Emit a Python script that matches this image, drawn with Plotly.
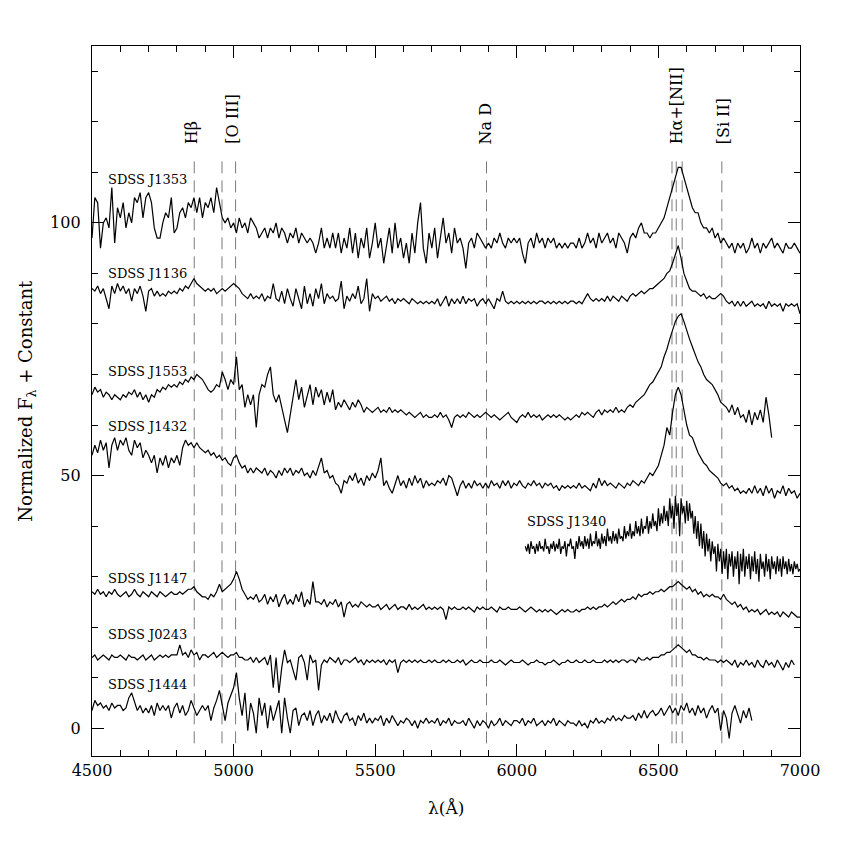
import numpy as np
import plotly.graph_objects as go

# ---------------- data ----------------
wave_full = np.arange(4500, 7001, 10)

j1353 = [97, 105, 104, 95, 100, 101, 99, 107, 96, 103,
         101, 104, 99, 102, 100, 105, 104, 106, 101, 105,
         106, 104, 99, 97, 97, 100, 102, 101, 105, 98,
         99, 102, 103, 101, 104, 103, 105, 102, 105, 101,
         104, 103, 105, 102, 107, 104, 101, 100, 101, 99,
         100, 98, 101, 99, 100, 98, 101, 100, 99, 97,
         98, 99, 97, 99, 98, 100, 97, 99, 98, 96,
         98, 97, 99, 96, 98, 97, 96, 97, 96, 94,
         96, 99, 95, 97, 95, 98, 95, 98, 94, 97,
         95, 99, 94, 98, 93, 97, 95, 99, 93, 96,
         100, 95, 97, 92, 96, 99, 94, 100, 95, 97,
         93, 96, 92, 98, 94, 100, 104, 95, 92, 98,
         95, 99, 93, 97, 101, 96, 98, 94, 99, 96,
         97, 95, 91, 96, 97, 95, 98, 97, 96, 95,
         96, 95, 97, 96, 98, 96, 95, 97, 96, 97,
         96, 97, 94, 92, 96, 97, 95, 98, 96, 97,
         95, 97, 96, 97, 95, 96, 95, 96, 95, 96,
         96, 95, 97, 95, 96, 98, 96, 97, 95, 98,
         96, 97, 98, 96, 97, 95, 98, 97, 96, 94,
         97, 98, 97, 99, 100, 98, 98, 97, 98, 98,
         99, 100, 101, 103, 105, 107, 109, 111, 111, 109,
         107, 105, 103, 102, 102, 100, 99, 99, 98, 99,
         97, 98, 96, 97, 96, 95, 96, 94, 96, 95,
         96, 94, 95, 97, 95, 96, 94, 96, 95, 96,
         97, 95, 96, 95, 94, 96, 95, 95, 96, 95, 94]

j1136 = [87, 86.5, 87.5, 86, 87, 85, 83, 87.5, 86, 88,
         86.5, 87.5, 86, 87, 84.5, 87, 86, 87.5, 85.5, 82.5,
         86.5, 87, 85.5, 86.5, 85.5, 86, 85.5, 86.5, 86, 86.5,
         86, 87, 86.5, 87.5, 87, 88, 89, 88, 87.5, 87,
         86.5, 87, 86.5, 87, 86, 86.5, 87, 86.5, 87, 87.5,
         88, 87.5, 87, 86, 85.5, 85, 86, 85, 85.5, 85,
         86, 84.5, 85.5, 85, 88, 85, 84.5, 86.5, 84, 87,
         85, 83.5, 87, 85, 83, 87.5, 84, 86, 83.5, 87,
         85, 88, 84, 86, 85, 85.5, 84.5, 85, 88.5, 83,
         85.5, 84.5, 86, 85, 87.5, 84, 85, 89, 82.5, 86,
         85, 85.5, 84.5, 85, 85.5, 84.5, 85, 84, 85, 84.5,
         85, 84.5, 84, 85, 84.5, 84, 84.5, 84, 84.5, 84,
         84.5, 84, 85, 83.5, 84.5, 85.5, 83.5, 85, 84, 85,
         84, 85.5, 84, 85, 84.5, 85, 83.5, 84.5, 85, 84,
         85, 84, 83, 85, 84.5, 86.5, 84.5, 84, 84.5, 84,
         84.5, 84, 84.5, 84, 84.5, 84, 84.5, 84, 84.5, 84.5,
         84, 84.5, 84, 84.5, 84, 84.5, 84, 84.5, 84, 84.5,
         84.5, 84, 84.5, 84, 85, 86, 85, 84.5, 85, 84.5,
         85, 84.5, 85.5, 84.5, 85.5, 85, 84.5, 85.5, 85, 84.5,
         85.5, 86, 85.5, 86, 86.5, 86, 86.5, 87, 87, 87.5,
         88, 88.5, 89, 90, 90.5, 92, 94, 95.5, 93, 90,
         88.5, 87, 86.5, 86.5, 86, 85.5, 86, 85, 85.5, 85,
         85, 85.5, 86, 85.5, 84.5, 84, 84.5, 83.5, 84.5, 83.5,
         84.5, 83.5, 84, 84.5, 83.5, 84, 83.5, 84, 83, 84.5,
         83.5, 84, 83.5, 84, 82.5, 84, 83.5, 84, 83.5, 84, 82]

wave_j1553 = np.arange(4500, 6901, 10)
j1553 = [66, 67.5, 66.5, 67, 65.5, 66.5, 66, 65, 66, 65.5,
         65, 66, 65.5, 66.5, 66, 67, 65.5, 66.5, 65, 66,
         64.5, 66, 65.5, 67, 66.5, 67.5, 67, 68, 67.5, 68,
         67.5, 68.5, 68, 69, 68.5, 69.5, 69, 70, 69.5, 69,
         68, 67, 66.5, 67, 68, 67.5, 70.5, 69, 67, 69,
         68, 73.5, 67, 68, 63.5, 66, 64, 66, 59.5, 66,
         68, 67.5, 70, 71.5, 66, 64.5, 66, 63.5, 61, 58.5,
         62, 66, 69, 65, 67.5, 63.5, 66, 68, 64, 67.5,
         65.5, 67, 64, 66.5, 64.5, 67, 63, 64.5, 63.5, 65,
         64, 63, 64.5, 63.5, 65, 64, 62.5, 63.5, 63, 62.5,
         63, 63.5, 62.5, 63, 62.5, 63.5, 62.5, 63, 62.5, 63,
         62.5, 62, 62.5, 62, 61.5, 62, 62.5, 61.5, 62, 61.5,
         61.5, 62, 61.5, 62.5, 61.5, 62, 61, 59.5, 61.5, 62,
         61.5, 62, 61.5, 62.5, 62, 61.5, 62, 61.5, 62, 62.5,
         62, 61.5, 62, 61.5, 61, 61.5, 62, 62.5, 61.5, 61,
         60.5, 61.5, 62, 61.5, 62.5, 61.5, 62, 61.5, 62, 61,
         61.5, 62, 61.5, 62, 61.5, 62, 61.5, 61, 61.5, 61,
         61.5, 62, 61.5, 62.5, 62, 62.5, 62, 61.5, 62.5, 63,
         62, 63, 62.5, 63, 62.5, 63.5, 62.5, 63, 62.5, 63.5,
         64, 63.5, 64.5, 65, 65.5, 66, 67, 68, 68.5, 69.5,
         70.5, 71.5, 73.5, 75, 77, 79, 80.5, 81.5, 82, 80.5,
         78.5, 77, 75.5, 74, 72.5, 71.5, 70, 69, 68.5, 68,
         67, 66, 64.5, 64, 63.5, 62.5, 64, 62, 63.5, 61.5,
         62, 60.5, 63, 60, 62.5, 61, 63, 60.5, 65.5, 62, 57.5]

j1432 = [54, 56, 54.5, 57, 55, 56.5, 51.5, 56, 57.5, 55,
         57, 56, 57.5, 55, 54, 57, 55.5, 56.5, 53.5, 55,
         54, 52.5, 54, 50.5, 53.5, 52, 54, 51.5, 53.5, 52.5,
         54, 52, 55.5, 57, 56, 56.5, 55.5, 56.5, 55.5, 55,
         54.5, 55, 54, 54.5, 53.5, 54, 53, 53.5, 52.5, 52,
         53.5, 54, 52.5, 51.5, 52, 50.5, 51.5, 50.5, 51.5, 51,
         50.5, 51.5, 50, 51, 50.5, 49.5, 51, 50, 51.5, 50.5,
         51.5, 50, 51, 50.5, 51.5, 50, 50.5, 49.5, 51, 50,
         52, 53.5, 50.5, 51, 49.5, 50, 48.5, 48, 46.5, 49,
         48.5, 50, 49, 50.5, 48.5, 49.5, 48, 50, 49, 50.5,
         49.5, 51, 53.5, 48, 49, 47.5, 46.5, 48.5, 50, 48,
         49, 47.5, 49.5, 48, 50, 48.5, 49.5, 47.5, 49, 48,
         48.5, 48, 49, 48.5, 49.5, 48, 50, 49.5, 47.5, 46,
         48, 49, 47.5, 48.5, 47.5, 49, 48, 48.5, 47.5, 48.5,
         47.5, 49, 48, 48.5, 47.5, 49, 48, 49, 47.5, 48.5,
         48, 49, 48, 47.5, 48.5, 48, 49, 48, 48.5, 47.5,
         48.5, 48, 48.5, 47.5, 48, 47, 48, 47.5, 48, 47.5,
         48, 47.5, 48.5, 47.5, 48, 47.5, 47, 48.5, 47.5, 49.5,
         48, 49, 48, 48.5, 48, 47.5, 48.5, 48, 47.5, 48.5,
         48, 49, 48.5, 48, 49, 48.5, 49.5, 50.5, 50, 51,
         52, 54, 56, 59.5, 58, 62.5, 66, 67.5, 66, 63,
         60, 58, 57.5, 56, 54.5, 53.5, 52.5, 52, 51, 50.5,
         50, 49.5, 48.5, 48, 48.5, 47.5, 48, 47, 47.5, 46.5,
         47, 46.5, 47.5, 46.5, 48, 46.5, 47.5, 46, 48, 46.5,
         47.5, 45.5, 47, 46.5, 48, 46, 47.5, 46.5, 47, 45.5, 46.5]

wave_j1340 = np.arange(6030, 7001, 5)
j1340 = [36, 35, 36.5, 34.5, 37, 35.5, 36, 34.5, 36.5, 35, 37, 35.5, 36, 35, 37.5, 35.5, 36, 34.5, 36.5, 35.5,
         37, 35, 36.5, 35.5, 37.5, 34.5, 36, 35.5, 37, 34, 36.5, 36, 37.5, 35.5, 36, 33.5, 37, 35.5, 38, 36,
         37, 35.5, 38, 36, 37.5, 35.5, 38.5, 36, 37, 36.5, 39, 36, 37.5, 35.5, 38.5, 36.5, 38, 36, 39.5, 37,
         38, 36.5, 39, 37, 38.5, 36.5, 39.5, 37.5, 38, 37, 40, 37.5, 39, 38, 40.5, 37.5, 39, 38, 41, 38.5,
         40, 38, 41.5, 38.5, 40, 39.5, 42, 38.5, 41, 39.5, 42.5, 40, 41, 39, 43.5, 40, 42.5, 40.5, 44, 41,
         43, 40, 45.5, 41.5, 44, 39.5, 46, 42, 44.5, 38, 45.5, 42.5, 44, 40.5, 45, 41, 44.5, 41.5, 43, 38.5,
         42, 37.5, 41, 36, 40.5, 35.5, 39, 34, 38.5, 35, 37.5, 33, 37, 34.5, 36, 31, 36.5, 33, 35.5, 30.5,
         35, 31.5, 35.5, 29.5, 34.5, 32, 35, 30, 34, 31.5, 35, 28.5, 34.5, 31, 35.5, 30, 34, 31.5, 34.5, 29.5,
         34, 31, 35, 30.5, 33.5, 29, 34.5, 31.5, 33, 30, 34.5, 31, 33.5, 29.5, 34, 31.5, 33, 30.5, 34, 31,
         33.5, 30, 34, 31.5, 33, 30.5, 33.5, 31, 32.5, 30.5, 33, 31.5, 32.5, 31, 31.5]

j1147 = [27, 26.5, 27.5, 26.5, 27, 26, 27, 26.5, 27.5, 26.5,
         26, 26.5, 27, 26, 26.5, 27.5, 26.5, 26, 27, 26.5,
         26, 27, 26.5, 26, 27, 26.5, 26, 26.5, 27, 26.5,
         26.5, 27, 26.5, 27, 27.5, 27.5, 28, 27, 26.5, 26,
         26, 25.5, 26.5, 26, 27, 28.5, 27, 27.5, 28, 28.5,
         29.5, 31, 29.5, 27.5, 26.5, 25.5, 26, 25.5, 26.5, 25,
         25.5, 26.5, 24.5, 26, 25, 26.5, 24, 25.5, 26.5, 24.5,
         25.5, 24.5, 26.5, 25, 27, 24, 25.5, 24.5, 29, 25,
         25, 24.5, 25.5, 24, 25, 24.5, 25.5, 24, 25, 22,
         24.5, 25, 24, 24.5, 24, 25, 24.5, 24, 24.5, 24,
         24, 24.5, 23.5, 24, 24.5, 23.5, 24, 24.5, 23.5, 24,
         24, 23.5, 24.5, 23.5, 24, 23.5, 24, 24.5, 23.5, 24,
         23.5, 24, 23.5, 24, 23.5, 21.5, 24, 23.5, 24, 23.5,
         23.5, 24, 23.5, 24, 23.5, 23, 24, 23.5, 24, 23.5,
         23.5, 24, 23.5, 23, 24, 23.5, 23.5, 24, 23.5, 23.5,
         23.5, 24, 23.5, 23, 23.5, 24, 23.5, 23, 23.5, 23,
         23.5, 23, 23.5, 23, 22.5, 23, 23.5, 23, 23.5, 23,
         23, 23.5, 23, 23.5, 23.5, 24, 23.5, 24, 23.5, 24,
         24, 24.5, 24, 24.5, 25, 24.5, 25, 25.5, 25, 25.5,
         25.5, 26, 25.5, 26.5, 26, 26.5, 26.5, 27, 26.5, 27,
         27, 27.5, 27, 27.5, 28, 28, 28.5, 29, 28.5, 28,
         27.5, 28, 27, 27.5, 26.5, 27, 26, 26.5, 26, 26.5,
         26, 26, 25.5, 26.5, 25.5, 25, 24.5, 25, 24, 24.5,
         23.5, 24, 23, 23.5, 23, 23.5, 22.5, 23, 23.5, 22.5,
         23, 22.5, 23, 22, 23, 22.5, 22, 23, 22.5, 22, 22]

wave_j0243 = np.arange(4500, 6981, 10)
j0243 = [14, 14.5, 13.5, 14, 14.5, 14, 13.5, 14.5, 14, 14,
         14.5, 14, 13.5, 14.5, 14, 14, 13.5, 14, 14.5, 13.5,
         14, 14.5, 13.5, 14, 14.5, 14, 14.5, 14, 14.5, 14.5,
         14.5, 16.5, 14.5, 15, 14, 15.5, 14.5, 15, 13.5, 14.5,
         14.5, 14, 14.5, 15, 14, 14.5, 15, 14.5, 14, 14.5,
         14.5, 15, 14, 14, 13.5, 13.5, 14, 13, 14, 13,
         13.5, 14, 12.5, 14.5, 8, 14, 7, 12, 15.5, 13,
         13.5, 11.5, 9.5, 14, 14.5, 13, 9.5, 14.5, 13, 13.5,
         7.5, 12.5, 13.5, 13, 14, 13.5, 13, 14, 12.5, 13.5,
         13.5, 13, 13.5, 14, 13, 13.5, 12.5, 13.5, 13, 13.5,
         13, 13.5, 13, 13.5, 12.5, 13.5, 13, 13.5, 11, 13,
         13.5, 13, 13.5, 13, 13.5, 13, 13.5, 13, 13, 13.5,
         13, 13.5, 13, 13, 13.5, 13, 13.5, 13, 13, 13.5,
         13, 13.5, 12.5, 13, 13.5, 13, 13, 13.5, 13, 13,
         13, 13.5, 13, 13, 13.5, 13, 12.5, 13, 13.5, 13,
         13, 13, 13.5, 13, 12.5, 13, 13, 13.5, 13, 13,
         12.5, 13, 13, 13.5, 13, 12.5, 13, 13, 13.5, 13,
         13, 13.5, 13, 13, 13.5, 13, 13, 13.5, 13, 13,
         13, 13.5, 13, 13.5, 13, 13.5, 13, 13.5, 13.5, 13,
         13.5, 13.5, 13, 14, 13.5, 13.5, 14, 13.5, 14, 14,
         14, 14.5, 14.5, 15, 15, 15.5, 16, 16.5, 16, 15.5,
         15, 15.5, 14.5, 14.5, 14, 14, 13.5, 14, 13.5, 13.5,
         13.5, 13, 13.5, 13, 13.5, 13, 12.5, 13.5, 12, 13,
         12.5, 13.5, 12.5, 13, 12, 13.5, 12.5, 12, 13.5, 12.5,
         13, 12, 13.5, 12.5, 11.5, 13, 12, 13.5, 12.5]

wave_j1444 = np.arange(4500, 6831, 10)
j1444 = [3.5, 5.5, 4.5, 5, 4, 4.5, 3.5, 5, 4, 4.5,
         4.5, 3.5, 4, 6, 7, 5, 3.5, 4.5, 3, 4,
         3, 4.5, 2.5, 5, 3.5, 4.5, 3.5, 4.5, 2, 4,
         5, 3, 4.5, 2.5, 3.5, 5.5, 4, 2.5, 3.5, 4.5,
         3.5, 4.5, 1.5, 4, 5.5, 7.5, 4.5, 1.5, 5, 6.5,
         8, 11, 6, 2.5, 7, -0.5, 5, 3, -1, 6,
         2.5, 5, 0, 4.5, 1.5, 3.5, 5.5, -1, 6, 2,
         -1, 3.5, 4, 0.5, 2.5, 3, 1.5, 3.5, 0.5, 2.5,
         3.5, 1, 2.5, 1.5, 3, 1, 3.5, 2, 1, 2.5,
         3, 1.5, 2, 0.5, 2.5, 1.5, 3, 1, 2, 1,
         2, 1.5, 2.5, 0.5, 2, 1, 2.5, 1.5, 0.5, 1.5,
         1, 2, 1.5, 0.5, 1.5, 0, 1.5, 1, 2, 1,
         1.5, 1, 2, 0.5, 1.5, 1, 2, 0.5, 1.5, 1,
         1, 1.5, 0.5, 2, 1, 0, 1.5, 0.5, 1.5, 1,
         0, 1.5, 0.5, 1, 2, 0.5, 1.5, 1, 0.5, 1.5,
         1.5, 1, 2, 0.5, 1.5, 1, 2, 0.5, 1, 1.5,
         0.5, 1.5, 1, 2, 0.5, 1.5, 1, 0.5, 1.5, 1,
         1, 0.5, 1.5, 0.5, 1, 0, 1.5, 1, 2, 1,
         1.5, 1, 2, 1.5, 2.5, 1.5, 2, 1.5, 2.5, 2,
         2, 2.5, 1.5, 3, 2, 3.5, 2, 3, 3.5, 2.5,
         3, 4, 2.5, 3.5, 4.5, 3, 4, 2.5, 4.5, 3.5,
         5, 3, 4, 2.5, 4.5, 3, 4, 2, 3.5, 4.5,
         3, 4, -0.5, 3.5, 2, -2, 3, 4.5, 2.5, 1,
         3.5, 2, 4, 1.5]

spectra = [
    ("SDSS J1353", wave_full, j1353),
    ("SDSS J1136", wave_full, j1136),
    ("SDSS J1553", wave_j1553, j1553),
    ("SDSS J1432", wave_full, j1432),
    ("SDSS J1340", wave_j1340, j1340),
    ("SDSS J1147", wave_full, j1147),
    ("SDSS J0243", wave_j0243, j0243),
    ("SDSS J1444", wave_j1444, j1444),
]

# object label anchor (wavelength, flux)
label_x = [4549, 4549, 4549, 4549, 6029, 4549, 4549, 4549]
label_y = [108.5, 90.0, 70.5, 59.7, 40.9, 29.6, 18.6, 8.7]

# spectral line markers
line_waves = [4861, 4959, 5007, 5893, 6548, 6563, 6584, 6724]
line_names = ["Hβ", "[O III]", "Na D", "Hα+[NII]", "[Si II]"]
line_name_x = [4852, 4993, 5891, 6565, 6729]
line_y0, line_y1 = -3, 113
line_label_y = 115.2

FONT = "DejaVu Serif"

fig = go.Figure()

for w in line_waves:
    fig.add_trace(go.Scatter(x=[w, w], y=[line_y0, line_y1], mode="lines",
                             line=dict(color="#7a7a7a", width=1, dash="12px,7px"),
                             hoverinfo="skip", showlegend=False))

for name, w, f in spectra:
    fig.add_trace(go.Scatter(x=w, y=f, mode="lines", name=name,
                             line=dict(color="black", width=1.2),
                             showlegend=False))

for (name, _, _), lx, ly in zip(spectra, label_x, label_y):
    fig.add_annotation(x=lx, y=ly, text=name, showarrow=False, xanchor="left",
                       yanchor="middle", font=dict(family=FONT, size=13, color="black"))

for t, lx in zip(line_names, line_name_x):
    fig.add_annotation(x=lx, y=line_label_y, text=t, showarrow=False, textangle=-90,
                       xanchor="center", yanchor="bottom",
                       font=dict(family=FONT, size=16, color="black"))

# page body adds an 8px offset; margins compensate so the plot sits where the reference has it
fig.add_annotation(xref="paper", yref="paper", x=-0.092, y=0.5,
                   text="Normalized F<sub>λ</sub> + Constant", showarrow=False,
                   textangle=-90, xanchor="center", yanchor="middle",
                   font=dict(family=FONT, size=18, color="black"))
fig.add_annotation(xref="paper", yref="paper", x=0.5, y=-0.073,
                   text="λ(Å)", showarrow=False, xanchor="center", yanchor="middle",
                   font=dict(family=FONT, size=17, color="black"))

axis_common = dict(showline=True, linecolor="black", linewidth=1.3, mirror="allticks",
                   ticks="inside", ticklen=12, tickwidth=1, tickcolor="black",
                   showgrid=False, zeroline=False,
                   tickfont=dict(family=FONT, size=16, color="black"))

fig.update_xaxes(range=[4500, 7000], tick0=4500, dtick=500,
                 minor=dict(ticks="inside", dtick=100, ticklen=6, tickcolor="black", tickwidth=1),
                 **axis_common)
fig.update_yaxes(range=[-5.5, 135], tick0=0, dtick=50, ticklabelstandoff=7,
                 minor=dict(ticks="inside", dtick=10, ticklen=6, tickcolor="black", tickwidth=1),
                 **axis_common)

fig.update_layout(width=845, height=845, plot_bgcolor="white", paper_bgcolor="white",
                  margin=dict(l=84, r=53, t=38, b=97), showlegend=False)

fig.write_html("out.html")
